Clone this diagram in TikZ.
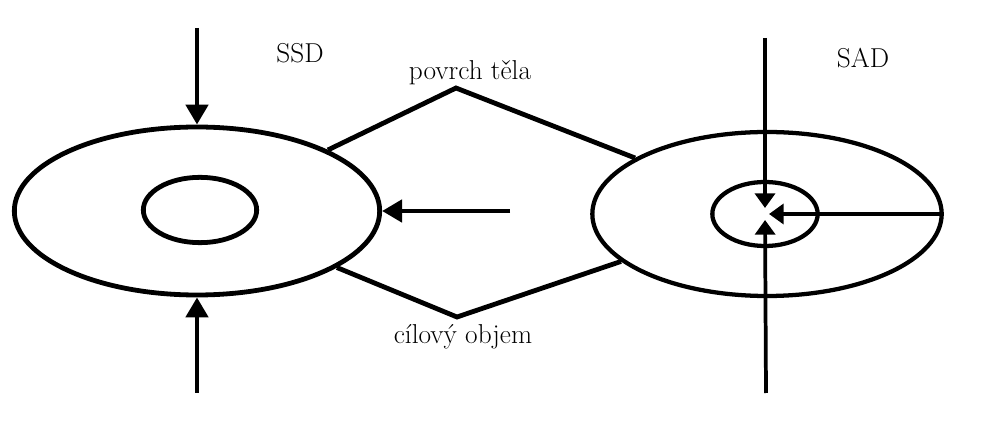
\documentclass[tikz,border=0pt]{standalone}
\usepackage{fontspec}
\usetikzlibrary{shapes.geometric,arrows.meta,calc}

\begin{document}
\begin{tikzpicture}[x=0.75pt,y=-0.75pt,
    ring/.style={draw, ellipse, inner sep=0pt, line width=3.6pt},
    thinring/.style={draw, ellipse, inner sep=0pt, line width=3.2pt},
    beam/.style={line width=3.6pt, -{Triangle[length=15pt,width=16.5pt]}},
    ray/.style={line width=2.8pt, -{Triangle[length=11pt,width=15pt]}},
    edge/.style={line width=3.6pt, line join=miter},
    lbl/.style={inner sep=0pt, font=\fontsize{20.5}{24}\selectfont}]

  \useasboundingbox (0,0) rectangle (982,427);
  \fill[white] (0,0) rectangle (982,427);

  % SSD arrangement: fixed source-to-surface distance
  \node[ring, minimum width=274pt, minimum height=126pt] (outerL) at (197,211) {};
  \node[ring, minimum width=85pt, minimum height=49pt] (innerL) at (200,210) {};

  \coordinate (topL) at (197,28);
  \coordinate (botL) at (197,393);
  \coordinate (midL) at ($(outerL.east)+(128,0)$);
  \draw[beam] (topL) -- (outerL.north);
  \draw[beam] (botL) -- (outerL.south);
  \draw[beam] (midL) -- (outerL.east);

  % SAD arrangement: fixed source-to-axis distance
  \node[thinring, minimum width=262pt, minimum height=123pt] (outerR) at (767,214) {};
  \node[thinring, minimum width=79pt, minimum height=48pt] (innerR) at (765,214) {};

  \coordinate (topR) at (765,38);
  \coordinate (botR) at (766,393);
  \draw[ray, shorten >=4.5pt] (topR) -- (innerR.center);
  \draw[ray, shorten >=4.5pt] (botR) -- (innerR.center);
  \draw[ray, shorten >=3pt] (outerR.east) -- (innerR.center);

  % body outline joining the two views
  \coordinate (apexT) at (456,88);
  \coordinate (apexB) at (457,317);
  \draw[edge] (outerL.25) -- (apexT) -- (outerR.157);
  \draw[edge] (outerL.-22) -- (apexB) -- (outerR.-162);

  % labels
  \node[lbl] (ssd) at (300,53) {SSD};
  \node[lbl] (sad) at (863,58) {SAD};
  \node[lbl] (povrch) at (470,73) {povrch těla};
  \node[lbl] (cil) at (463,337) {cílový objem};
\end{tikzpicture}
\end{document}
